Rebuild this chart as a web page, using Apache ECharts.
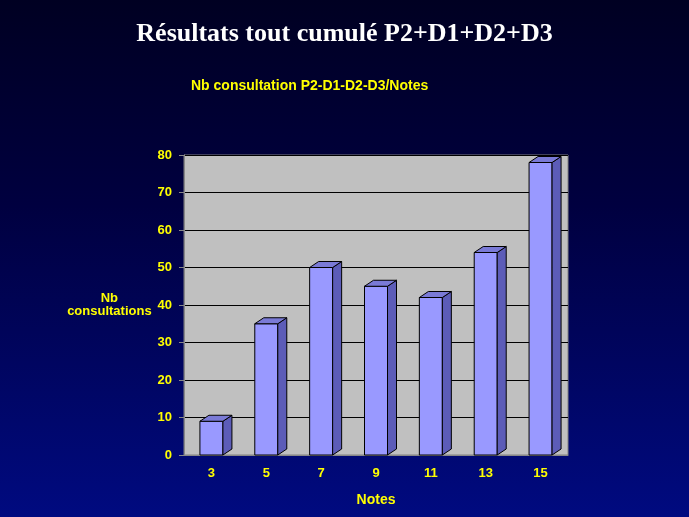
<!DOCTYPE html>
<html><head><meta charset="utf-8">
<script src="https://cdn.jsdelivr.net/npm/echarts@6/dist/echarts.min.js"></script>
<style>html,body{margin:0;padding:0;}#c{width:689px;height:517px;background:linear-gradient(180deg,#000022 0%,#000040 40%,#000a80 100%);}</style>
</head><body><div id="c"></div>
<script>
const categories=['3','5','7','9','11','13','15'];
const values=[9,35,50,45,42,54,78];
const yTicks={min:0,max:80,interval:10};
const chart=echarts.init(document.getElementById('c'));
chart.setOption({
  backgroundColor:'transparent',
  title:[{text:'Résultats tout cumulé P2+D1+D2+D3',left:'center',top:16,textStyle:{color:'#fff',fontFamily:'Liberation Serif',fontWeight:'bold',fontSize:26}},
         {text:'Nb consultation P2-D1-D2-D3/Notes',left:186,top:74,textStyle:{color:'#ffff00',fontFamily:'Liberation Sans',fontWeight:'bold',fontSize:14}}],
  grid:{left:184,right:121,top:155,bottom:62,show:true,backgroundColor:'#c0c0c0',borderColor:'#808080'},
  xAxis:{type:'category',data:categories,name:'Notes',nameLocation:'middle',nameGap:38,
    nameTextStyle:{color:'#ffff00',fontWeight:'bold',fontSize:14,fontFamily:'Liberation Sans'},
    axisLine:{lineStyle:{color:'#888'}},axisTick:{show:false},
    axisLabel:{color:'#ffff00',fontWeight:'bold',fontSize:13,fontFamily:'Liberation Sans',margin:12}},
  yAxis:{type:'value',min:yTicks.min,max:yTicks.max,interval:yTicks.interval,
    name:'Nb\nconsultations',nameLocation:'middle',nameGap:54,nameRotate:0,
    nameTextStyle:{color:'#ffff00',fontWeight:'bold',fontSize:13,fontFamily:'Liberation Sans',align:'center'},
    axisLine:{show:true,lineStyle:{color:'#888'}},axisTick:{show:true,lineStyle:{color:'#888'}},
    splitLine:{lineStyle:{color:'#000',width:1}},
    axisLabel:{color:'#ffff00',fontWeight:'bold',fontSize:13,fontFamily:'Liberation Sans',margin:12}},
  series:[{type:'custom',data:values.map((v,i)=>[i,v]),
    renderItem:function(params,api){
      const top=api.coord([api.value(0),api.value(1)]);
      const base=api.coord([api.value(0),0]);
      const w=23,dx=9,dy=-6;
      const x0=top[0]-w/2,x1=top[0]+w/2;
      return {type:'group',children:[
        {type:'rect',shape:{x:x0,y:top[1],width:w,height:base[1]-top[1]},style:{fill:'#9999ff',stroke:'#000',lineWidth:1}},
        {type:'polygon',shape:{points:[[x1,top[1]],[x1+dx,top[1]+dy],[x1+dx,base[1]+dy],[x1,base[1]]]},style:{fill:'#5c5cb8',stroke:'#000',lineWidth:1}},
        {type:'polygon',shape:{points:[[x0,top[1]],[x0+dx,top[1]+dy],[x1+dx,top[1]+dy],[x1,top[1]]]},style:{fill:'#7a7ad6',stroke:'#000',lineWidth:1}}
      ]};
    }}]
});
</script></body></html>
